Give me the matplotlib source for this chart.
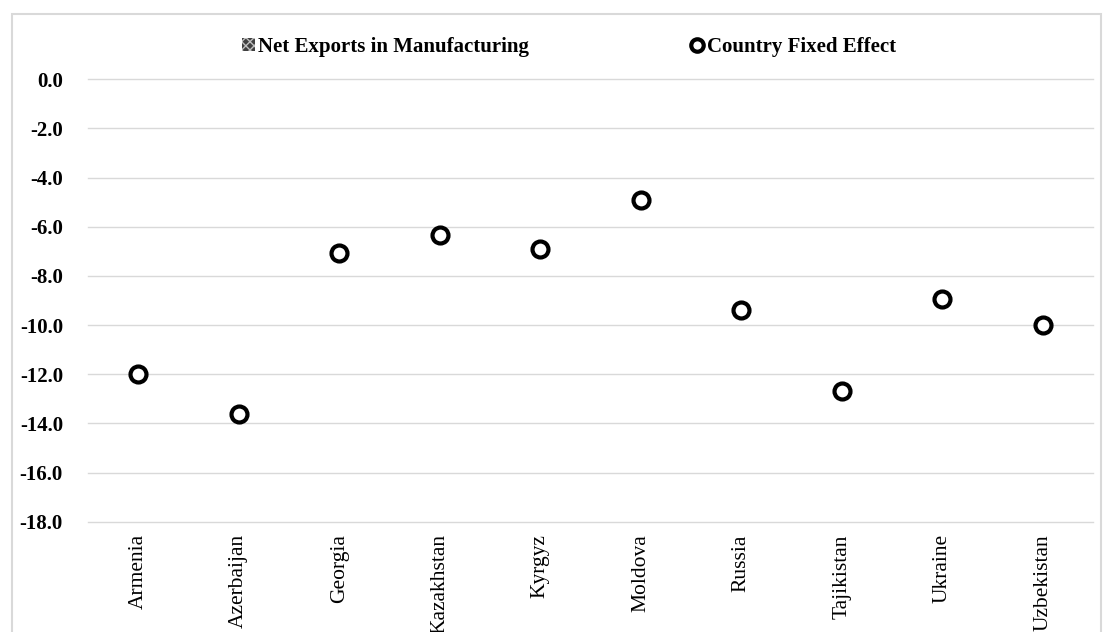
import numpy as np
import matplotlib
matplotlib.use("Agg")
import matplotlib.pyplot as plt
from matplotlib.patches import Rectangle

plt.rcParams["font.family"] = ["Liberation Serif", "DejaVu Serif"]
plt.rcParams["hatch.linewidth"] = 1.0

# Data
countries = ["Armenia", "Azerbaijan", "Georgia", "Kazakhstan", "Kyrgyz",
             "Moldova", "Russia", "Tajikistan", "Ukraine", "Uzbekistan"]
net_exports = [0, 0, 0, 0, 0, 0, 0, 0, 0, 0]   # no visible bars
fixed_effect = [-12.0, -13.6, -7.05, -6.35, -6.9, -4.9, -9.4, -12.7, -8.95, -10.0]
yticks = np.arange(-18, 1, 2)

fig = plt.figure(figsize=(11.04, 6.32), dpi=100)
ax = fig.add_axes([88 / 1104, 1 - 521.7 / 632, 1005 / 1104, 442.4 / 632])

x = np.arange(len(countries))
bars = ax.bar(x, net_exports, width=0.5, color="#404040", hatch="xxxx",
              edgecolor="#bfbfbf", linewidth=0, label="Net Exports in Manufacturing")
ax.plot(x, fixed_effect, linestyle="none", marker="o", markersize=11.5,
        markerfacecolor="white", markeredgecolor="black", markeredgewidth=3.0,
        label="Country Fixed Effect", zorder=3)

ax.set_xlim(-0.5, len(countries) - 0.5)
ax.set_ylim(-18, 0)
ax.set_yticks(yticks)
ax.set_yticklabels([f"{v:.1f}" for v in yticks], fontsize=15, fontweight="bold")
ax.set_xticks(x)
ax.set_xticklabels(countries, rotation=90, fontsize=15.5)
ax.tick_params(axis="both", length=0)
ax.tick_params(axis="y", pad=18)
ax.tick_params(axis="x", pad=9)
ax.grid(axis="y", color="#d9d9d9", linewidth=1.0, clip_on=False)
ax.set_axisbelow(True)
for s in ax.spines.values():
    s.set_visible(False)

leg = fig.legend(handles=[bars, ax.lines[0]], ncol=2, frameon=False,
                 loc="center", bbox_to_anchor=(569 / 1104, 1 - 46.7 / 632),
                 prop={"size": 15, "weight": "bold"}, handlelength=0.6,
                 handleheight=0.6, handletextpad=0.15, columnspacing=7.8,
                 markerscale=0.78)

# outer chart border
fig.add_artist(Rectangle((11.5 / 1104, -0.1), (1101 - 11.5) / 1104, 1.1 - 14 / 632,
                         transform=fig.transFigure, fill=False,
                         edgecolor="#d9d9d9", linewidth=1.5, clip_on=False))

fig.savefig("out.png", dpi=100)
